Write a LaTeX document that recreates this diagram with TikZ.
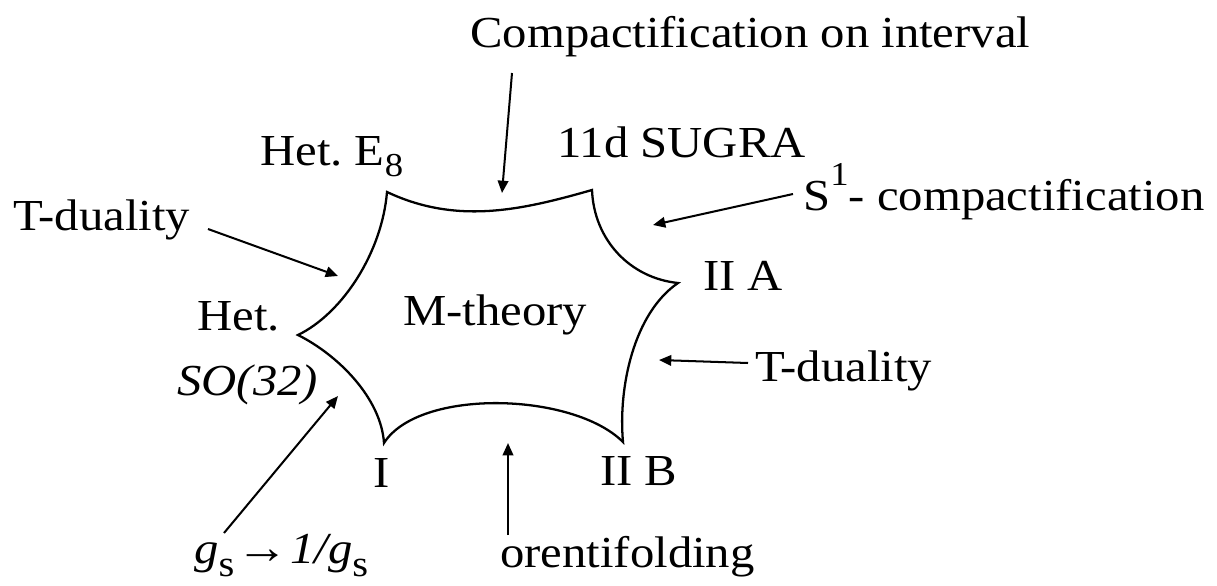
\documentclass[tikz,border=0pt]{standalone}
\usepackage{fontspec}
\setmainfont{Liberation Serif}[FakeStretch=1.1]
\usetikzlibrary{arrows.meta}
\frenchspacing
\newcommand{\mysub}[1]{\raisebox{-0.27em}{\fontsize{19}{20}\selectfont #1}}
\newcommand{\mygsub}[1]{\raisebox{-0.3em}{\fontsize{21}{22}\selectfont #1}}
\begin{document}
\begin{tikzpicture}[x=0.02cm,y=-0.02cm,
  lbl/.style={anchor=base west, inner sep=0pt, font=\fontsize{25.2}{30}\selectfont},
  arr/.style={-{Triangle[length=7pt,width=6pt]}, line width=1.15pt},
  shapeline/.style={line width=1.3pt, line join=miter}]
\useasboundingbox (0,0) rectangle (1217,585);

% vertices of the M-theory star
\coordinate (A) at (387,192);
\coordinate (B) at (592,190);
\coordinate (C) at (678,283);
\coordinate (D) at (623,442);
\coordinate (E) at (384,443);
\coordinate (F) at (298,335);

\draw[shapeline] (A) .. controls (457,225) and (522,210) .. (B)
  .. controls (594,240) and (630,278) .. (C)
  .. controls (634,313) and (618,387) .. (D)
  .. controls (573,392) and (419,388) .. (E)
  .. controls (381,398) and (338,355) .. (F)
  .. controls (343,313) and (382,252) .. (A) -- cycle;

% labels
\node[lbl] (mth) at (403,325) {M-theory};
\node[lbl] (comp) at (470,47) {Compactification on interval};
\node[lbl] (sugra) at (557,157) {11d SUGRA};
\node[lbl] (hetE) at (260,165) {Het. E\mysub{8}};
\node[lbl] (tdl) at (13,230) {T-duality};
\node[lbl] (het) at (197,330) {Het.};
\node[lbl] (so) at (177,395) {\itshape SO(32)};
\node[lbl] (one) at (373,487) {I};
\node[lbl] (iib) at (600,485) {II B};
\node[lbl] (iia) at (703,290) {II A};
\node[lbl] (s1) at (803,210) {S\raisebox{0.55em}{\fontsize{19}{20}\selectfont 1}- compactification};
\node[lbl] (tdr) at (755,381) {T-duality};
\node[lbl] (gs) at (194,563) {\textit{g}\mygsub{s}\kern1pt{\fontsize{27}{30}\selectfont →}\kern1pt\textit{1/g}\mygsub{s}};
\node[lbl] (orf) at (500,567) {orentifolding};

% arrow ends
\coordinate (c1t) at (512,73);  \coordinate (c1h) at (502,193);
\coordinate (s1t) at (793,194); \coordinate (s1h) at (653,225);
\coordinate (tlt) at (208,229); \coordinate (tlh) at (338,276);
\coordinate (trt) at (748,363); \coordinate (trh) at (659,360);
\coordinate (gst) at (224,533); \coordinate (gsh) at (338,396);
\coordinate (ort) at (508,535); \coordinate (orh) at (508,443);

\draw[arr] (c1t) -- (c1h);
\draw[arr] (s1t) -- (s1h);
\draw[arr] (tlt) -- (tlh);
\draw[arr] (trt) -- (trh);
\draw[arr] (gst) -- (gsh);
\draw[arr] (ort) -- (orh);
\end{tikzpicture}
\end{document}
